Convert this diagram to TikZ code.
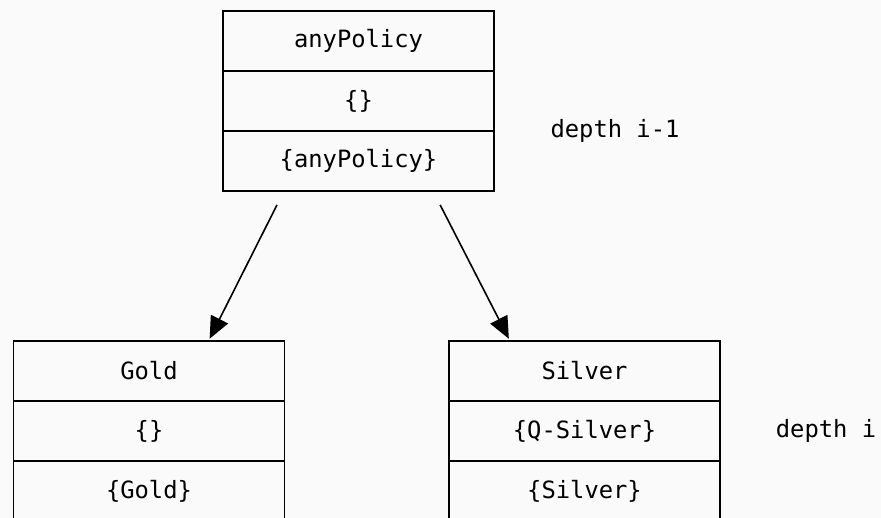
\documentclass[tikz,border=0pt]{standalone}
\usepackage{fontspec}
\setmonofont{DejaVu Sans Mono}
\usetikzlibrary{arrows.meta,calc}
\definecolor{bg}{HTML}{FAFAFA}
\begin{document}
\begin{tikzpicture}[x=1pt,y=-1pt,
  cell/.style={draw=black,line width=1.6pt,minimum width=271pt,minimum height=60pt,inner sep=0pt,outer sep=0pt,
    font=\ttfamily\fontsize{23.8}{26}\selectfont,text=black},
  lbl/.style={font=\ttfamily\fontsize{23.8}{26}\selectfont,text=black,inner sep=0pt},
  arr/.style={-{Triangle[length=22pt,width=19pt]},line width=1.6pt}]
\fill[bg] (0,0) rectangle (881,518);
\useasboundingbox (0,0) rectangle (881,518);
\clip (0,0) rectangle (881,518);
% top box
\node[cell] (t1) at (358.5,41) {anyPolicy};
\node[cell] (t2) at (358.5,101) {\{\}};
\node[cell] (t3) at (358.5,161) {\{anyPolicy\}};
\node[lbl] (d1) at (615,131) {depth i-1};
% bottom left
\node[cell] (g1) at (149,371) {Gold};
\node[cell] (g2) at (149,431) {\{\}};
\node[cell] (g3) at (149,491) {\{Gold\}};
% bottom right
\node[cell] (s1) at (584.5,371) {Silver};
\node[cell] (s2) at (584.5,431) {\{Q-Silver\}};
\node[cell] (s3) at (584.5,491) {\{Silver\}};
\node[lbl] (d2) at (826,431) {depth i};
% arrows
\draw[arr,shorten <=15.6pt,shorten >=2.5pt] ($(t3.south)+(-74.5,0)$) -- ($(g1.north)+(59.5,0)$);
\draw[arr,shorten <=15.6pt,shorten >=2.5pt] ($(t3.south)+(74.5,0)$) -- ($(s1.north)+(-74.5,0)$);
\end{tikzpicture}
\end{document}
